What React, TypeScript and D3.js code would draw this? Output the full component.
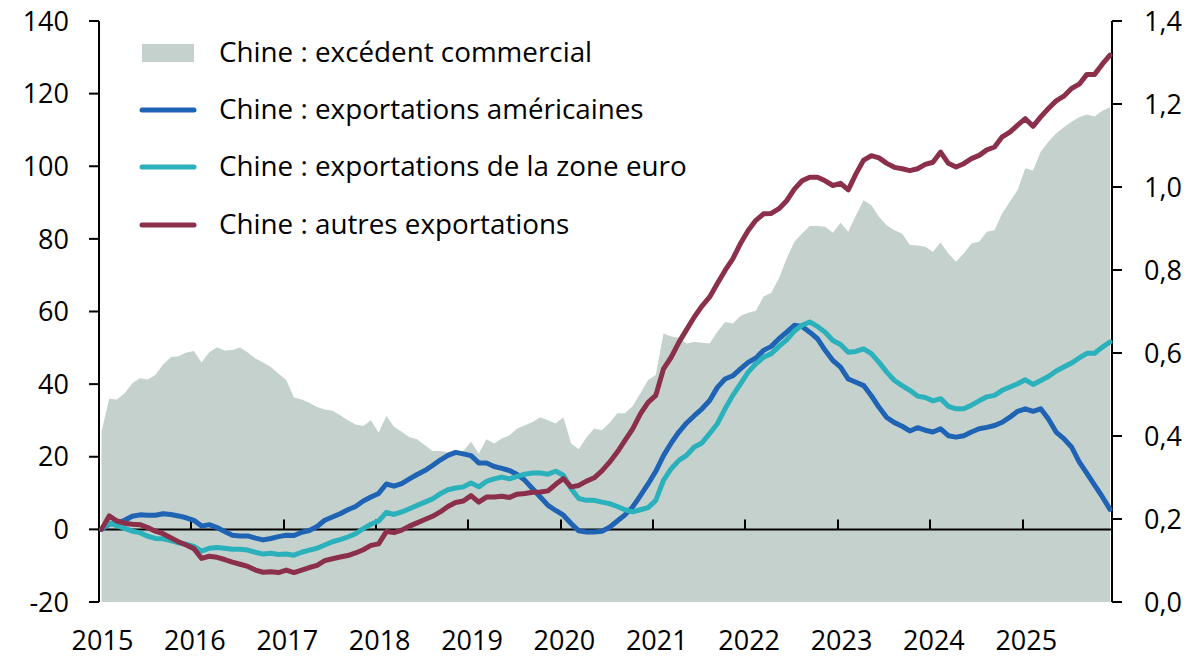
import React, { useEffect, useRef } from "react";
import * as d3 from "d3";

// monthly, Jan 2015 -> Dec 2025
const yearLabels = ["2015", "2016", "2017", "2018", "2019", "2020", "2021", "2022", "2023", "2024", "2025"];
const leftTicks = [-20, 0, 20, 40, 60, 80, 100, 120, 140];
const rightTicks = [0, 0.2, 0.4, 0.6, 0.8, 1.0, 1.2, 1.4];

// excédent commercial (axe de droite)
const surplus = [
  0.41, 0.49, 0.488, 0.503, 0.527, 0.539, 0.536, 0.547, 0.572, 0.59, 0.592, 0.601,
  0.605, 0.577, 0.602, 0.614, 0.606, 0.607, 0.613, 0.601, 0.587, 0.577, 0.566, 0.55,
  0.535, 0.493, 0.488, 0.48, 0.47, 0.464, 0.461, 0.45, 0.438, 0.428, 0.424, 0.438,
  0.408, 0.448, 0.422, 0.41, 0.397, 0.392, 0.378, 0.364, 0.364, 0.361, 0.358, 0.364,
  0.386, 0.358, 0.392, 0.382, 0.394, 0.402, 0.418, 0.426, 0.434, 0.445, 0.438, 0.43,
  0.445, 0.382, 0.368, 0.397, 0.418, 0.414, 0.432, 0.455, 0.455, 0.472, 0.503, 0.535,
  0.547, 0.647, 0.64, 0.637, 0.623, 0.627, 0.625, 0.623, 0.651, 0.675, 0.671, 0.689,
  0.697, 0.702, 0.736, 0.745, 0.78, 0.828, 0.868, 0.888, 0.906, 0.906, 0.904, 0.89,
  0.914, 0.892, 0.932, 0.968, 0.956, 0.928, 0.908, 0.896, 0.888, 0.86, 0.859, 0.856,
  0.844, 0.866, 0.84, 0.82, 0.84, 0.864, 0.868, 0.892, 0.896, 0.937, 0.965, 0.993,
  1.045, 1.04, 1.085, 1.109, 1.129, 1.144, 1.157, 1.168, 1.175, 1.17, 1.184, 1.192,
];

// exportations (axe de gauche)
const usExports = [
  0, 1.5, 1.7, 2.5, 3.6, 4.0, 3.9, 3.9, 4.3, 4.1, 3.7, 3.2,
  2.5, 0.9, 1.3, 0.5, -0.6, -1.6, -1.8, -1.8, -2.4, -2.9, -2.5, -2.0,
  -1.6, -1.7, -0.8, -0.3, 0.8, 2.5, 3.4, 4.3, 5.4, 6.3, 7.8, 8.9,
  9.9, 12.5, 11.9, 12.6, 13.9, 15.1, 16.2, 17.6, 19.1, 20.4, 21.2, 20.8,
  20.3, 18.3, 18.3, 17.3, 16.8, 16.2, 15.1, 13.5, 11.2, 8.9, 6.6, 5.2,
  3.9, 1.6, -0.4, -0.7, -0.7, -0.5, 0.6, 2.3, 4.0, 6.2, 9.3, 12.5,
  16.0, 20.3, 23.8, 26.8, 29.3, 31.3, 33.2, 35.5, 39.1, 41.4, 42.3, 44.2,
  46.0, 47.2, 49.3, 50.4, 52.5, 54.3, 56.2, 55.9, 54.3, 52.5, 49.3, 46.5,
  44.7, 41.4, 40.5, 39.6, 36.8, 33.6, 30.8, 29.4, 28.4, 27.1, 28.0, 27.3,
  26.8, 27.7, 25.8, 25.4, 25.8, 26.8, 27.7, 28.1, 28.6, 29.5, 30.9, 32.5,
  33.2, 32.5, 33.2, 30.4, 26.8, 25.0, 22.7, 18.6, 15.4, 12.2, 9.0, 5.5,
];

const euroExports = [
  0, 1.8, 1.0, 0.3, -0.5, -0.9, -1.9, -2.5, -2.6, -3.1, -3.7, -4.1,
  -4.7, -6.0, -5.2, -5.0, -5.2, -5.5, -5.5, -5.7, -6.3, -6.8, -6.6, -6.9,
  -6.8, -7.1, -6.3, -5.7, -5.2, -4.3, -3.4, -2.8, -2.1, -1.2, 0.2, 1.4,
  2.3, 4.7, 4.1, 4.8, 5.7, 6.6, 7.5, 8.4, 9.8, 10.9, 11.4, 11.7,
  12.8, 11.7, 13.2, 13.9, 14.4, 13.9, 14.6, 15.2, 15.5, 15.5, 15.2, 16.0,
  14.9, 11.2, 8.5, 8.0, 8.0, 7.5, 7.1, 6.3, 5.4, 4.8, 5.4, 6.0,
  8.0, 13.5, 16.7, 19.0, 20.4, 22.7, 23.8, 26.4, 29.1, 33.2, 36.9, 40.1,
  43.3, 45.6, 47.4, 48.4, 50.4, 52.2, 54.6, 56.2, 57.1, 55.9, 54.3, 52.0,
  50.9, 48.8, 49.0, 49.7, 48.4, 46.0, 43.3, 41.0, 39.6, 38.3, 36.7, 36.3,
  35.4, 36.0, 33.9, 33.2, 33.2, 34.2, 35.4, 36.5, 36.9, 38.3, 39.2, 40.1,
  41.2, 39.9, 41.0, 42.1, 43.6, 44.7, 45.8, 47.2, 48.5, 48.5, 50.2, 51.6,
];

const otherExports = [
  0, 3.7, 2.3, 1.7, 1.4, 1.3, 0.5, -0.5, -1.2, -2.3, -3.4, -4.3,
  -5.3, -8.0, -7.4, -7.7, -8.3, -9.0, -9.6, -10.2, -11.2, -11.8, -11.7, -11.9,
  -11.2, -11.9, -11.2, -10.5, -9.9, -8.6, -8.1, -7.6, -7.2, -6.5, -5.6, -4.4,
  -4.0, -0.6, -0.9, -0.2, 0.9, 1.8, 2.7, 3.6, 4.8, 6.3, 7.4, 7.8,
  9.3, 7.5, 8.9, 8.9, 9.1, 8.8, 9.7, 9.9, 10.2, 10.3, 10.6, 12.4,
  14.0, 11.7, 12.1, 13.3, 14.2, 16.1, 18.5, 21.3, 24.5, 27.7, 31.8, 35.0,
  36.9, 44.2, 47.4, 51.5, 55.0, 58.5, 61.5, 64.0, 67.7, 71.3, 74.5, 78.7,
  82.3, 85.1, 86.9, 87.0, 88.3, 90.5, 93.7, 96.0, 97.0, 97.0, 96.0, 94.7,
  95.3, 93.5, 97.9, 101.7, 102.9, 102.3, 100.8, 99.7, 99.3, 98.8, 99.3, 100.5,
  101.1, 103.9, 100.8, 99.8, 100.7, 102.1, 103.0, 104.5, 105.3, 108.1, 109.4, 111.3,
  113.1, 111.0, 113.6, 115.9, 118.0, 119.3, 121.4, 122.6, 125.3, 125.3, 128.1, 130.6,
];

const seriesNames = [
  "Chine : excédent commercial",
  "Chine : exportations américaines",
  "Chine : exportations de la zone euro",
  "Chine : autres exportations",
];
const colors = ["#c5d1cc", "#1f63b4", "#2bb1bb", "#8b2f4b"];

const W = 1204, H = 657;
const FONT = "'Open Sans', Lato, sans-serif";

export default function App() {
  const ref = useRef<SVGSVGElement>(null);

  useEffect(() => {
    const svg = d3.select(ref.current);
    svg.selectAll("*").remove();

    const n = surplus.length;
    const x = d3.scaleLinear().domain([0, n - 1]).range([101.5, 1110]);
    const yL = d3.scaleLinear().domain([-20, 140]).range([602, 21]);
    const yR = d3.scaleLinear().domain([0, 1.4]).range([602, 21]);
    const xLeft = 99, xRight = 1112;

    // area
    const area = d3.area<number>()
      .x((d, i) => x(i))
      .y0(yR(0))
      .y1(d => yR(d));
    svg.append("path").attr("d", area(surplus)).attr("fill", colors[0]);

    // x axis at 0
    const g = svg.append("g").attr("stroke", "#000").attr("stroke-width", 2);
    g.append("line").attr("x1", xLeft).attr("x2", xRight)
      .attr("y1", yL(0)).attr("y2", yL(0));
    yearLabels.slice(1).forEach((_, k) => {
      const tx = Math.round(x(12 * (k + 1) - 0.35));
      g.append("line").attr("x1", tx).attr("x2", tx)
        .attr("y1", yL(0)).attr("y2", yL(0) - 10);
    });

    // left axis
    g.append("line").attr("x1", xLeft).attr("x2", xLeft).attr("y1", yL(140)).attr("y2", yL(-20));
    leftTicks.forEach(t => {
      g.append("line").attr("x1", xLeft - 10).attr("x2", xLeft).attr("y1", yL(t)).attr("y2", yL(t));
    });
    // right axis
    g.append("line").attr("x1", xRight).attr("x2", xRight).attr("y1", yR(1.4)).attr("y2", yR(0));
    rightTicks.forEach(t => {
      g.append("line").attr("x1", xRight).attr("x2", xRight + 10).attr("y1", yR(t)).attr("y2", yR(t));
    });

    // lines
    const line = d3.line<number>().x((d, i) => x(i)).y(d => yL(d));
    [usExports, euroExports, otherExports].forEach((s, k) => {
      svg.append("path").attr("d", line(s))
        .attr("fill", "none")
        .attr("stroke", colors[k + 1])
        .attr("stroke-width", 5)
        .attr("stroke-linejoin", "round")
        .attr("stroke-linecap", "round");
    });

    const txt = svg.append("g").attr("font-family", FONT).attr("font-size", 27).attr("fill", "#000");
    leftTicks.forEach(t => {
      txt.append("text").attr("x", 69).attr("y", yL(t)).attr("dy", "0.36em")
        .attr("text-anchor", "end").text(String(t));
    });
    rightTicks.forEach(t => {
      txt.append("text").attr("x", 1144).attr("y", yR(t)).attr("dy", "0.36em")
        .attr("text-anchor", "start").text(t.toFixed(1).replace(".", ","));
    });
    yearLabels.forEach((lab, k) => {
      txt.append("text").attr("x", x(12 * k) + 1).attr("y", 650)
        .attr("text-anchor", "middle").text(lab);
    });

    // legend
    const lg = svg.append("g");
    const rowY = [53, 110, 167, 225];
    lg.append("rect").attr("x", 142).attr("y", rowY[0] - 9).attr("width", 52).attr("height", 18)
      .attr("fill", colors[0]);
    [1, 2, 3].forEach(k => {
      lg.append("line").attr("x1", 142).attr("x2", 194).attr("y1", rowY[k]).attr("y2", rowY[k])
        .attr("stroke", colors[k]).attr("stroke-width", 5).attr("stroke-linecap", "round");
    });
    seriesNames.forEach((name, k) => {
      txt.append("text").attr("x", 219).attr("y", rowY[k] + 9).attr("font-size", 27.8).text(name);
    });
  }, []);

  return (
    <svg ref={ref} width={W} height={H}
      style={{ position: "absolute", left: 0, top: 0, background: "#fff" }} />
  );
}
